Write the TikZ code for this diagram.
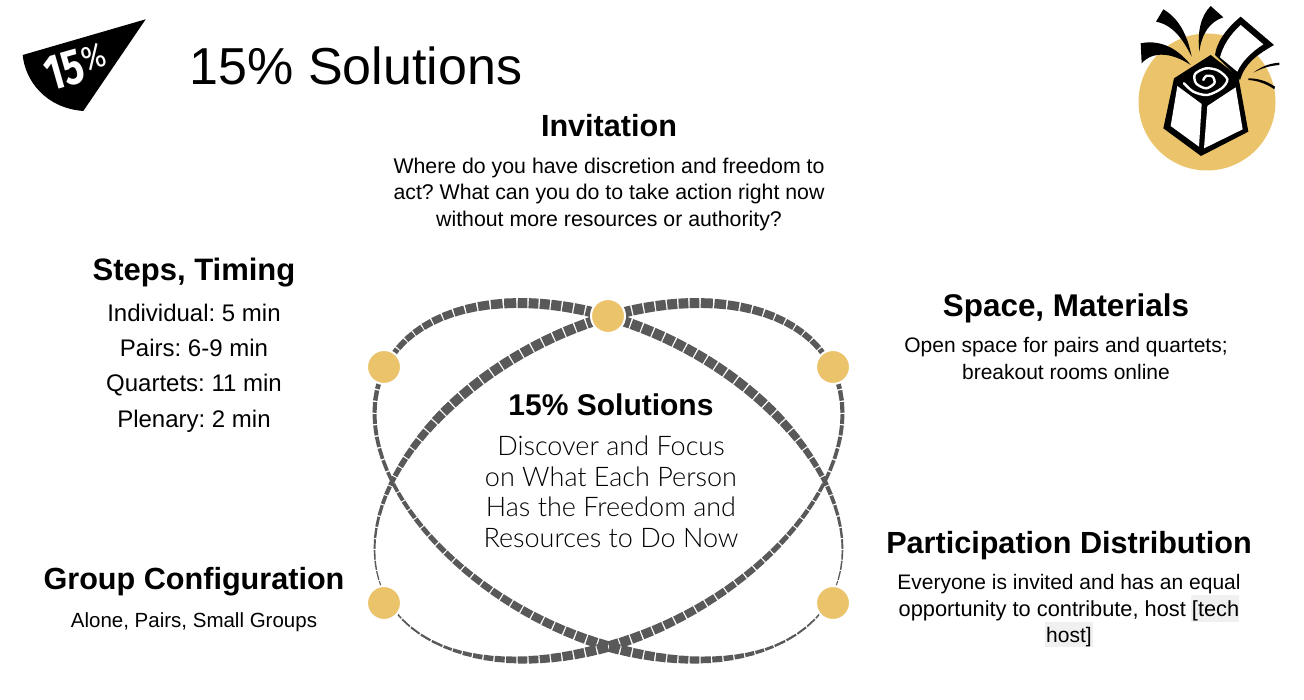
\documentclass[tikz,border=0pt]{standalone}
\usepackage{fontspec}
\setmainfont{Liberation Sans}
\newfontfamily\blurbfont{Lato Light}
\newfontfamily\badgefont{Fira Sans}
\definecolor{gold}{HTML}{EBC36A}
\definecolor{slate}{HTML}{595959}
\definecolor{marker}{HTML}{F0F0F0}
\frenchspacing
\tikzset{
	heading/.style={font=\bfseries\fontsize{#1}{#1}\selectfont, inner sep=0pt, align=center},
	body/.style={font=\fontsize{#1}{26.5}\selectfont, inner sep=0pt, align=center},
	dot/.style={circle, fill=gold, draw=white, line width=2pt, minimum size=34pt, inner sep=0pt},
	weave/.style={slate, line cap=butt}
}
% one ellipse of short blocks, #1 = +1 or -1 mirrors it
\newcommand{\weaveloop}[1]{%
	\foreach \ta/\wa/\tb/\wb in {0/1.7/15/1, 15/1/45/2.5, 45/2.5/67/7, 67/7/90/10.5, 90/10.5/120/7, 120/7/140/5, 140/5/157/3.5, 157/3.5/180/4, 180/4/210/6, 210/6/247/10, 247/10/270/10.5, 270/10.5/300/10, 300/10/315/9.3, 315/9.3/330/6, 330/6/345/3.5, 345/3.5/360/1.7}{
		\pgfmathsetmacro{\tm}{(\ta+\tb)/2}
		\pgfmathtruncatemacro{\nb}{max(1,round(sqrt(5.4756*sin(\tm)*sin(\tm)+3.186*sin(\tm-67.6)*sin(\tm-67.6))*((\tb-\ta)/180*pi)*100/11.5))}
		\pgfmathsetmacro{\dt}{(\tb-\ta)/\nb}
		\foreach \i in {1,...,\nb}{
			\pgfmathsetmacro{\ts}{\ta+(\i-0.94)*\dt}
			\pgfmathsetmacro{\te}{\ta+(\i-0.06)*\dt}
			\pgfmathsetmacro{\wd}{\wa+(\wb-\wa)*(\i-0.5)/\nb}
			\draw[weave, line width=\wd pt] ({608.5+#1*234*cos(\ts)},{481.5+178.5*cos(\ts-67.6)}) -- ({608.5+#1*234*cos(\te)},{481.5+178.5*cos(\te-67.6)});
		}
	}
}
\begin{document}
\begin{tikzpicture}[x=1pt, y=-1pt]
	\useasboundingbox (0,0) rectangle (1304,700);

	% Badge top left
	\fill (145.7,19.3) -- (22.7,55) .. controls (25,80) and (45,108) .. (83.3,111) -- cycle;
	\node[white, rotate=16, inner sep=0pt, font=\badgefont\bfseries\fontsize{50}{50}\selectfont] (badge) at (76,67) {\scalebox{0.78}[1]{15}\raisebox{10pt}{\fontsize{34}{34}\selectfont\mdseries\scalebox{0.85}[1]{\%}}};

	% Title
	\node[font=\fontsize{52}{52}\selectfont, inner sep=0pt] (title) at (356,66) {15\% Solutions};

	% Icon top right
	\fill[gold] (1207,102) circle (68.5);
	\begin{scope}[shift={(1120,0)}, scale=1/3]
		% ribbons
		\fill (130,28) .. controls (185,60) and (205,120) .. (215,170) .. controls (190,120) and (160,75) .. (108,65) -- cycle;
		\fill (272,18) .. controls (240,50) and (232,100) .. (238,155) .. controls (245,100) and (270,65) .. (310,52) -- cycle;
		\fill (62,130) .. controls (110,120) and (165,135) .. (212,195) .. controls (160,160) and (100,150) .. (65,190) -- cycle;
		\fill (400,218) .. controls (430,195) and (455,190) .. (478,188) -- (478,195) .. controls (445,198) and (425,205) .. (400,218) -- cycle;
		\fill (385,235) .. controls (425,235) and (450,250) .. (465,260) -- (463,268) .. controls (440,252) and (415,242) .. (385,240) -- cycle;
		% paper
		\fill (285,165) .. controls (290,125) and (320,85) .. (362,50) -- (462,135) .. controls (410,165) and (375,190) .. (360,240) -- cycle;
		\fill[white] (362,75) -- (430,133) .. controls (395,155) and (365,185) .. (352,215) -- (300,172) .. controls (310,135) and (330,105) .. (362,75) -- cycle;
		% box
		\fill (272,165) -- (355,230) -- (385,395) -- (243,468) -- (130,385) -- (162,235) -- cycle;
		\fill[white] (172,258) -- (245,312) -- (237,440) -- (152,378) -- cycle;
		\fill[white] (262,318) -- (347,262) -- (368,388) -- (252,445) -- cycle;
		% spiral
		\draw[white, line width=2.4pt, line cap=round] plot[smooth] coordinates {(192,250) (220,275) (262,285) (305,265) (322,238) (295,212) (258,205) (225,222) (228,250) (258,265) (283,250) (278,230) (258,228) (250,240)};
	\end{scope}

	% Highlight behind tech host
	\fill[marker] (1191,595) rectangle (1239,622);
	\fill[marker] (1045,622) rectangle (1093,647);

	% Text blocks
	\node[heading=30.6] (invite) at (609,125.5) {Invitation};
	\node[body=21.3] (invitetext) at (609,194) {Where do you have discretion and freedom to\\act? What can you do to take action right now\\without more resources or authority?};

	\node[heading=31] (steps) at (194,273) {Steps, Timing};
	\node[font=\fontsize{24}{35.3}\selectfont, inner sep=0pt, align=center] (stepstext) at (194,368) {Individual: 5 min\\Pairs: 6-9 min\\Quartets: 11 min\\Plenary: 2 min};

	\node[heading=31.4] (space) at (1066,308) {Space, Materials};
	\node[body=21] (spacetext) at (1066,358.5) {Open space for pairs and quartets;\\breakout rooms online};

	\node[heading=30.6] (group) at (194,582) {Group Configuration};
	\node[body=20.5] (grouptext) at (194,622) {Alone, Pairs, Small Groups};

	\node[heading=30.6] (part) at (1069,545.5) {Participation Distribution};
	\node[body=21] (parttext) at (1069,611) {Everyone is invited and has an equal\\\fontsize{21.8}{26.5}\selectfont opportunity to contribute, host [tech\\\fontsize{21}{26.5}\selectfont host]};

	% Two ellipses of blocks
	\weaveloop{1}
	\weaveloop{-1}

	% Dots on the ellipses
	\node[dot] (dottop) at (608,316) {};
	\node[dot] (dotnw) at (384,367) {};
	\node[dot] (dotne) at (833,367) {};
	\node[dot] (dotsw) at (384,603) {};
	\node[dot] (dotse) at (833,603) {};

	% Middle
	\node[heading=30] (middle) at (611,404.5) {15\% Solutions};
	\node[font=\blurbfont\fontsize{27}{30.5}\selectfont, inner sep=0pt, align=center] (blurb) at (611,492) {Discover and Focus\\on What Each Person\\Has the Freedom and\\Resources to Do Now};
\end{tikzpicture}
\end{document}
